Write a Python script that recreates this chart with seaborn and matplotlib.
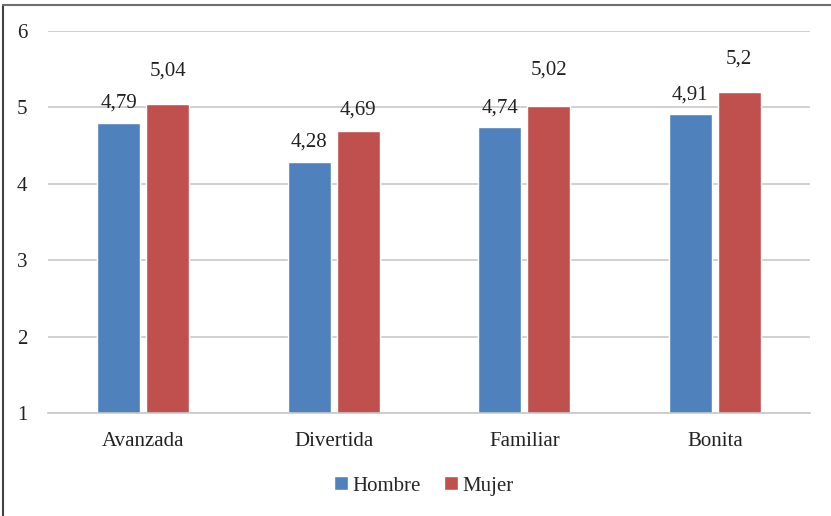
import matplotlib
matplotlib.use("Agg")
import matplotlib.pyplot as plt
import pandas as pd
import seaborn as sns
from matplotlib.lines import Line2D

categorias = ['Avanzada', 'Divertida', 'Familiar', 'Bonita']
hombre = [4.79, 4.28, 4.74, 4.91]
mujer = [5.04, 4.69, 5.02, 5.2]
etiq_hombre = ['4,79', '4,28', '4,74', '4,91']
etiq_mujer = ['5,04', '4,69', '5,02', '5,2']

sns.set_style('white')
plt.rcParams['font.family'] = ['Liberation Serif', 'DejaVu Serif']

df = pd.DataFrame({
    'Atributo': categorias * 2,
    'Valor': hombre + mujer,
    'Sexo': ['Hombre'] * 4 + ['Mujer'] * 4,
})

fs = 15
fig = plt.figure(figsize=(8.31, 5.16), dpi=100)
ax = fig.add_axes([48 / 831, 1 - 413 / 516, 762 / 831, 382 / 516])

sns.barplot(data=df, x='Atributo', y='Valor', hue='Sexo',
            palette={'Hombre': '#4F81BD', 'Mujer': '#C0504D'}, saturation=1,
            width=0.513, gap=0.12, ax=ax, errorbar=None)

ax.set_ylim(1, 6)
ax.set_yticks([1, 2, 3, 4, 5, 6])
ax.grid(axis='y', color='#C8C8C8', linewidth=1.2)
ax.set_axisbelow(True)
for s in ['top', 'right', 'left']:
    ax.spines[s].set_visible(False)
ax.spines['bottom'].set_color('#C8C8C8')
ax.spines['bottom'].set_linewidth(1.2)
ax.tick_params(axis='both', length=0, labelsize=fs, colors='#222222')
ax.tick_params(axis='y', pad=15)
ax.tick_params(axis='x', pad=14)
ax.set_xlabel('')
ax.set_ylabel('')

# etiquetas de datos
offs_h = [15, 15, 14, 14]
offs_m = [24, 15, 26, 24]
for cont, labs, offs in zip(ax.containers, [etiq_hombre, etiq_mujer], [offs_h, offs_m]):
    for bar, lab, off in zip(cont, labs, offs):
        ax.annotate(lab, (bar.get_x() + bar.get_width() / 2, bar.get_height()),
                    xytext=(0, off), textcoords='offset points',
                    ha='center', va='center', fontsize=fs, color='#222222')

ax.legend_.remove()
handles, labels = ax.get_legend_handles_labels()
fig.legend(handles, labels, loc='center', bbox_to_anchor=(424 / 831, 1 - 486 / 516),
           ncol=2, frameon=False, fontsize=fs, handlelength=0.65, handleheight=0.65,
           handletextpad=0.25, columnspacing=1.1)

# borde del gráfico
fig.add_artist(Line2D([3 / 831, 3 / 831], [0, 1 - 5 / 516], color='#404040', linewidth=1.5))
fig.add_artist(Line2D([3 / 831, 1], [1 - 5 / 516, 1 - 5 / 516], color='#707070', linewidth=1.5))

fig.savefig('out.png', dpi=100)
